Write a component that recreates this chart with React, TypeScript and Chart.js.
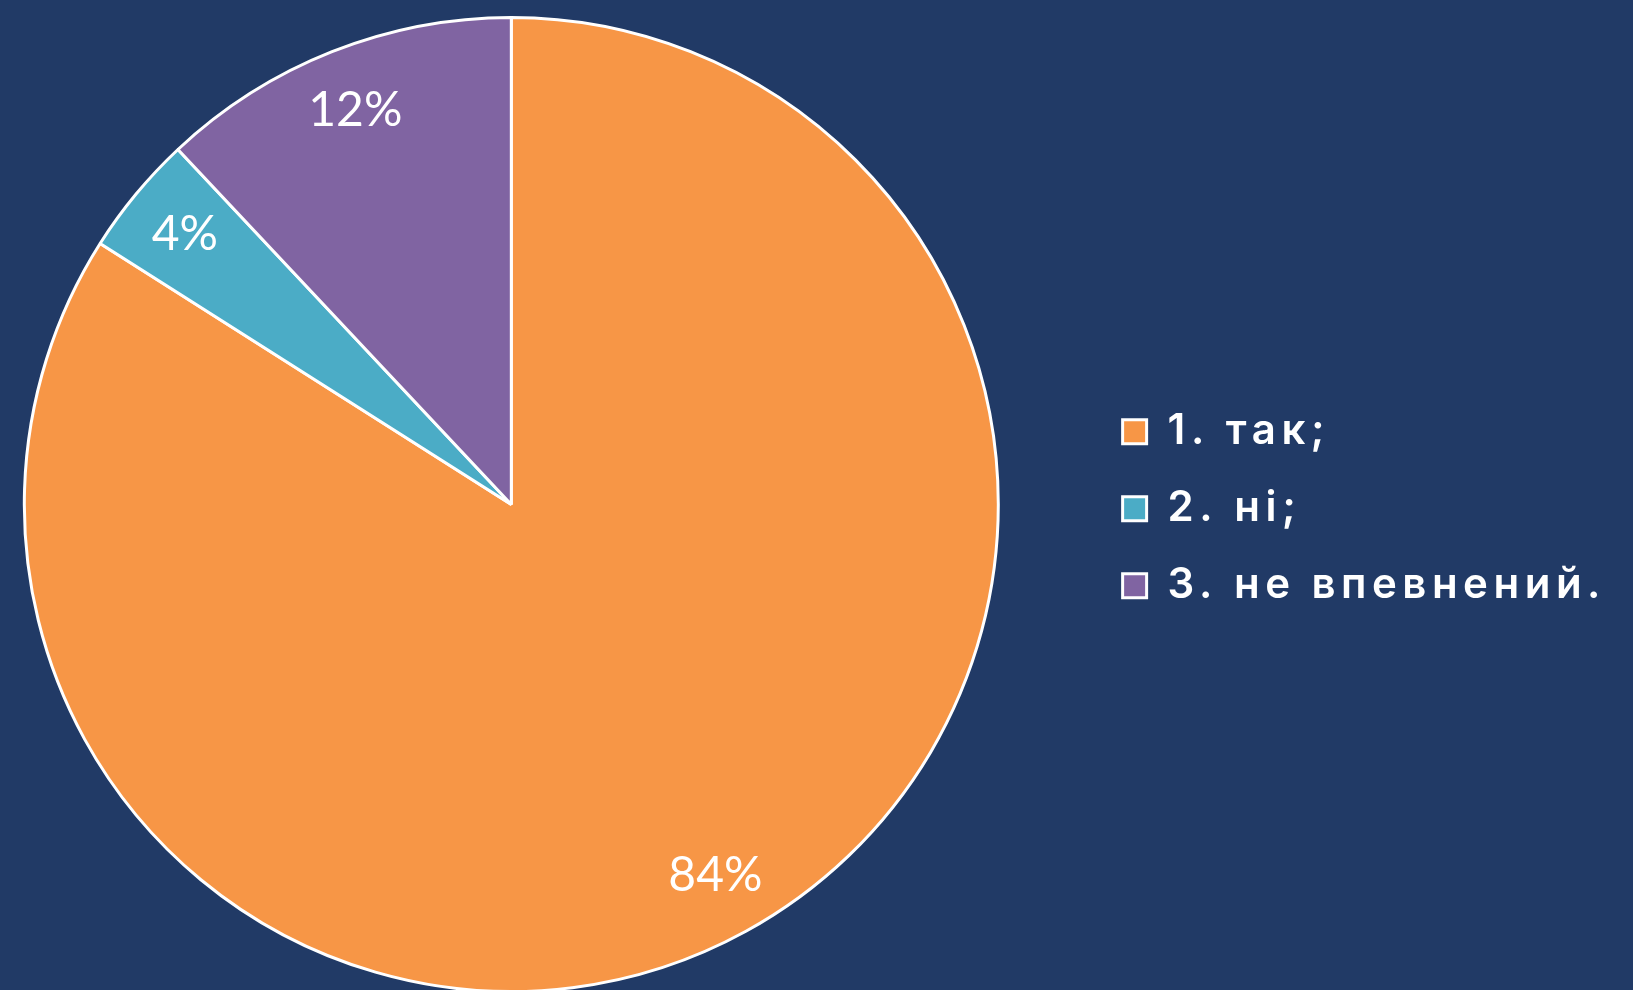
import React, { useEffect, useRef } from "react";
import { Chart, registerables } from "chart.js";

Chart.register(...registerables);

// ---- data ----
const categories: string[] = ["1. так;", "2. ні;", "3. не впевнений."];
const values: number[] = [84, 4, 12];
const valueLabels: string[] = ["84%", "4%", "12%"];
const sliceColors: string[] = ["#F79646", "#4BACC6", "#8064A2"];

const BG = "#213A66";
const LEGEND_FAMILY = "Inter";
const LEGEND_SIZE = 42;
const LEGEND_WEIGHT = 600;
const LEGEND_LS = "5.5px";
const LEGEND_PAD = 35;
const BOX = 24;

const pctPlugin = {
  id: "pctLabels",
  afterDatasetsDraw(chart: any) {
    const meta = chart.getDatasetMeta(0);
    const ctx = chart.ctx;
    ctx.save();
    ctx.letterSpacing = "0px";
    ctx.fillStyle = "#ffffff";
    ctx.font = "48px Lato";
    ctx.textAlign = "center";
    ctx.textBaseline = "middle";
    meta.data.forEach((arc: any, i: number) => {
      const p = arc.getProps(["x", "y", "startAngle", "endAngle", "outerRadius"], true);
      const mid = (p.startAngle + p.endAngle) / 2;
      const r = p.outerRadius * 0.87;
      ctx.fillText(valueLabels[i], p.x + Math.cos(mid) * r, p.y + Math.sin(mid) * r);
    });
    ctx.restore();
  },
};

const spacingPlugin = {
  id: "legendSpacing",
  beforeLayout(chart: any) {
    chart.ctx.letterSpacing = LEGEND_LS;
  },
  beforeDraw(chart: any) {
    chart.ctx.letterSpacing = LEGEND_LS;
  },
};

export default function App() {
  const wrapRef = useRef<HTMLDivElement | null>(null);
  const canvasRef = useRef<HTMLCanvasElement | null>(null);

  useEffect(() => {
    document.body.style.margin = "0";
    document.body.style.overflow = "hidden";
    document.body.style.background = BG;

    const mctx: any = document.createElement("canvas").getContext("2d")!;
    mctx.font = `${LEGEND_WEIGHT} ${LEGEND_SIZE}px ${LEGEND_FAMILY}`;
    mctx.letterSpacing = LEGEND_LS;
    const textW = Math.max(...categories.map((c) => mctx.measureText(c).width));
    const legendW = LEGEND_PAD + BOX + LEGEND_SIZE / 2 + textW + 10;

    const left = -65;
    const areaRight = 1087.5;
    const width = Math.round(areaRight - left + legendW);
    const wrap = wrapRef.current!;
    wrap.style.left = left + "px";
    wrap.style.width = width + "px";

    const chart = new Chart(canvasRef.current!, {
      type: "pie",
      data: {
        labels: categories,
        datasets: [
          {
            data: values,
            backgroundColor: sliceColors,
            borderColor: "#ffffff",
            borderWidth: 3,
            hoverBorderWidth: 3,
          },
        ],
      },
      options: {
        animation: false,
        responsive: true,
        maintainAspectRatio: false,
        layout: { padding: 0 },
        plugins: {
          legend: {
            position: "right",
            align: "center",
            title: { display: true, text: "", padding: 0, font: { size: 7 } },
            labels: {
              color: "#ffffff",
              boxWidth: BOX,
              boxHeight: BOX,
              padding: LEGEND_PAD,
              font: { family: LEGEND_FAMILY, size: LEGEND_SIZE, weight: LEGEND_WEIGHT as any },
            },
          },
          tooltip: { enabled: false },
        },
      },
      plugins: [spacingPlugin, pctPlugin],
    });
    return () => chart.destroy();
  }, []);

  return (
    <div style={{ position: "fixed", inset: 0, background: BG }}>
      <div
        ref={wrapRef}
        style={{ position: "absolute", top: 16, left: -65, width: 1700, height: 977 }}
      >
        <canvas ref={canvasRef} />
      </div>
    </div>
  );
}
